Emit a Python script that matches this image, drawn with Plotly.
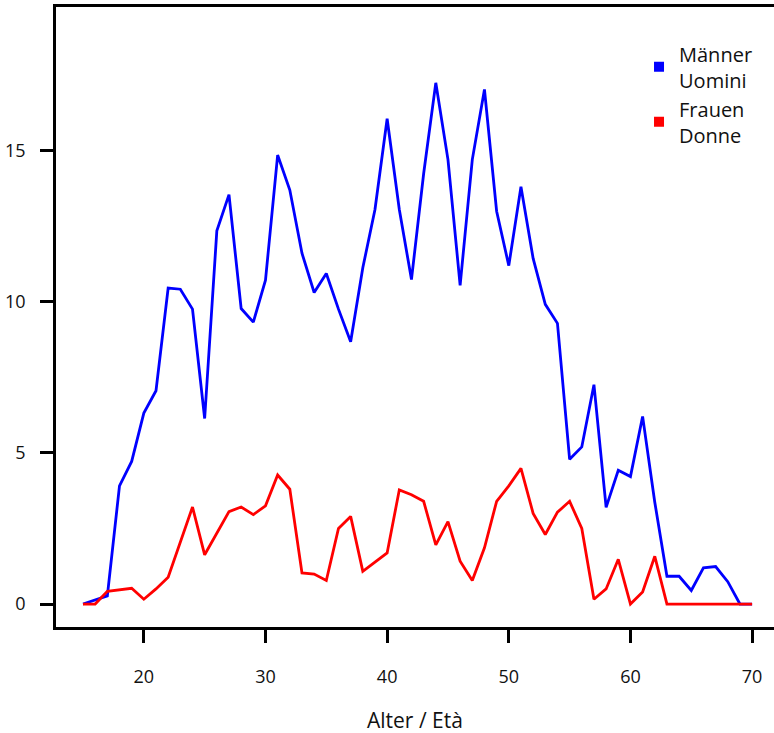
import plotly.graph_objects as go

ages = list(range(15, 71))
maenner = [0, 0.13, 0.27, 3.91, 4.72, 6.32, 7.06, 10.46, 10.42, 9.76,
           6.14, 12.35, 13.55, 9.78, 9.33, 10.72, 14.86, 13.7, 11.61, 10.31,
           10.94, 9.76, 8.68, 11.13, 13.06, 16.06, 13.06, 10.74, 14.24, 17.25,
           14.71, 10.55, 14.71, 17.03, 13.0, 11.2, 13.81, 11.44, 9.92, 9.29,
           4.79, 5.2, 7.26, 3.2, 4.43, 4.22, 6.21, 3.37, 0.92, 0.92,
           0.45, 1.2, 1.24, 0.74, 0, 0]
frauen = [0, 0, 0.42, 0.47, 0.52, 0.16, 0.5, 0.89, 2.06, 3.21,
          1.63, 2.34, 3.06, 3.21, 2.96, 3.25, 4.27, 3.8, 1.03, 0.99,
          0.78, 2.5, 2.9, 1.08, 1.38, 1.69, 3.78, 3.62, 3.4, 1.96,
          2.73, 1.42, 0.78, 1.86, 3.4, 3.91, 4.49, 3.0, 2.3, 3.04,
          3.4, 2.5, 0.16, 0.5, 1.48, 0, 0.4, 1.58, 0, 0,
          0, 0, 0, 0, 0, 0]
x_ticks = [20, 30, 40, 50, 60, 70]
y_ticks = [0, 5, 10, 15]
series_names = ["Männer<br>Uomini", "Frauen<br>Donne"]
series_colors = ["#0000ff", "#ff0000"]
x_title = "Alter / Età"

FONT = "Open Sans"

fig = go.Figure()
for vals, name, col in zip([maenner, frauen], series_names, series_colors):
    fig.add_trace(go.Scatter(x=ages, y=vals, mode="lines",
                             line=dict(color=col, width=2.8),
                             showlegend=False, hoverinfo="x+y"))
for name, col in zip(series_names, series_colors):
    fig.add_trace(go.Scatter(x=[None], y=[None], mode="markers", name=name,
                             marker=dict(symbol="square", size=10, color=col),
                             showlegend=True))

fig.update_layout(
    width=774, height=733,
    margin=dict(l=56, r=0, t=7, b=106),
    paper_bgcolor="white", plot_bgcolor="white",
    font=dict(family=FONT, color="black", size=18),
    legend=dict(x=0.812, y=0.956, xanchor="left", yanchor="top",
                font=dict(size=20, family=FONT, color="#111111"),
                bgcolor="rgba(0,0,0,0)", valign="middle", tracegroupgap=0),
    xaxis=dict(range=[12.78, 71.8], tickvals=x_ticks, ticks="outside",
               ticklen=13, tickwidth=2.5, tickcolor="black",
               showline=True, linewidth=2.5, linecolor="black", mirror=True,
               showgrid=False, zeroline=False, ticklabelstandoff=19,
               tickfont=dict(size=18, color="#111111")),
    yaxis=dict(range=[-0.76, 19.76], tickvals=y_ticks, ticks="outside",
               ticklen=13, tickwidth=2.5, tickcolor="black",
               showline=True, linewidth=2.5, linecolor="black", mirror=False,
               showgrid=False, zeroline=False, ticklabelstandoff=11,
               tickfont=dict(size=18, color="#111111")),
    annotations=[dict(text=x_title, xref="paper", yref="paper",
                      x=0.5, y=-0.15, xanchor="center", yanchor="middle",
                      showarrow=False, font=dict(size=21, color="#111111"))],
)

fig.write_html("out.html", config={"displayModeBar": False},
               post_script="document.body.style.margin='0';")
